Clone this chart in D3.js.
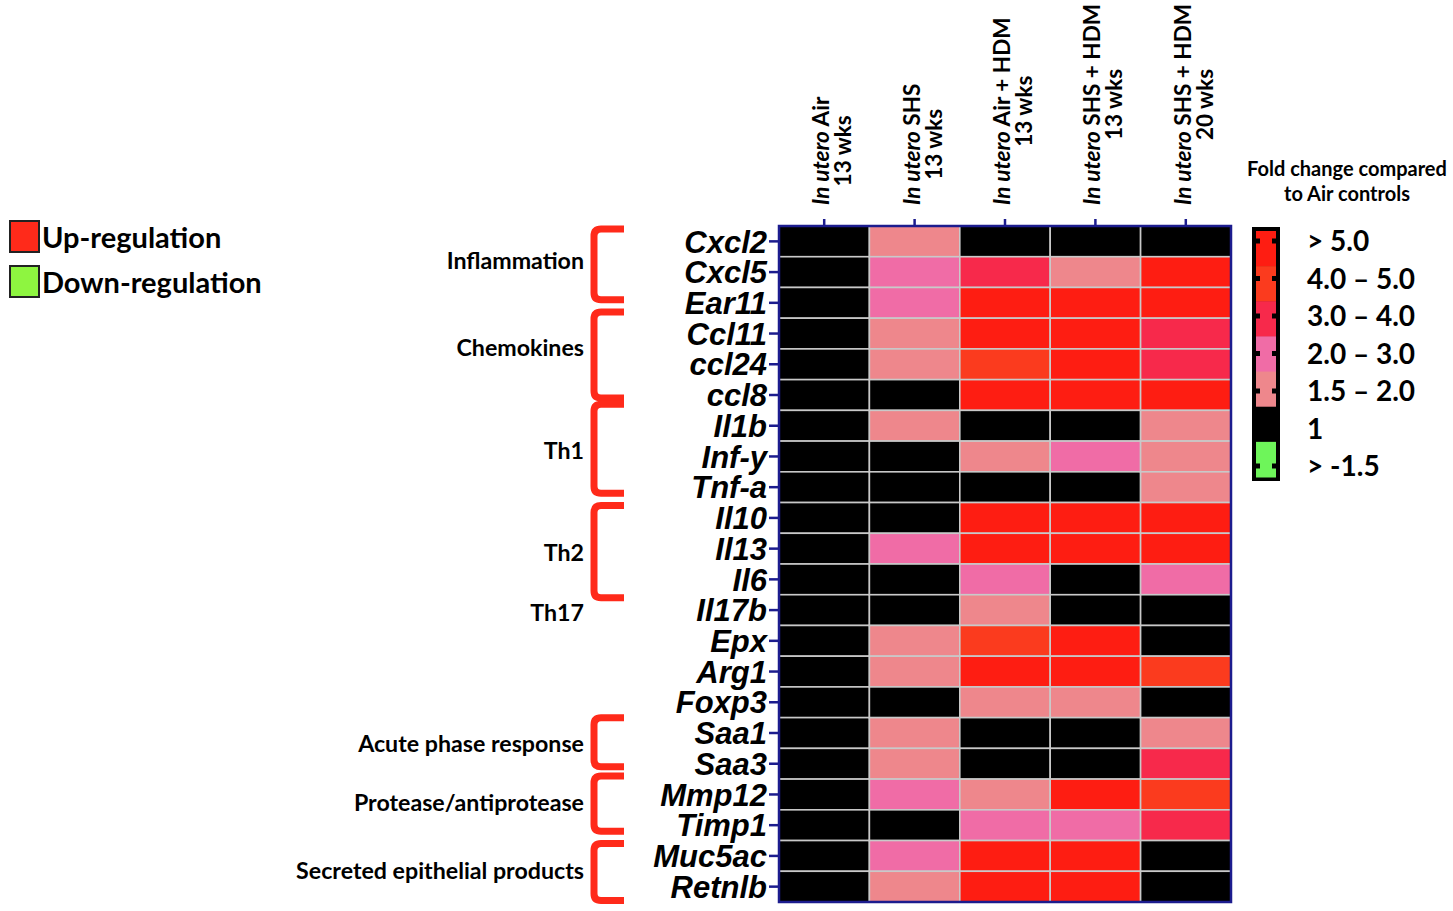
<!DOCTYPE html>
<html>
<head>
<meta charset="utf-8">
<script src="https://cdn.jsdelivr.net/npm/d3@7"></script>
<style>
  body { margin: 0; background: #fff; }
  svg { display: block; }
  .hdr, .grp, .leg { font-family: Lato, "Open Sans", sans-serif; font-weight: bold; }
  .gene text { font-family: "Liberation Sans", Arial, sans-serif; font-weight: bold; font-style: italic; font-size: 31px; fill: #000; }
</style>
</head>
<body>
<div id="chart"></div>
<script>
// genes (rows) top to bottom
const genes = ["Cxcl2","Cxcl5","Ear11","Ccl11","ccl24","ccl8","Il1b","Inf-y","Tnf-a","Il10","Il13","Il6",
               "Il17b","Epx","Arg1","Foxp3","Saa1","Saa3","Mmp12","Timp1","Muc5ac","Retnlb"];

// column headers: text after "In utero", and exposure length
const colGroups = [" Air", " SHS", " Air + HDM", " SHS + HDM", " SHS + HDM"];
const colWeeks  = ["13 wks", "13 wks", "13 wks", "13 wks", "20 wks"];

// fold change class per gene: 0 = 1, 1 = 1.5-2.0, 2 = 2.0-3.0, 3 = 3.0-4.0, 4 = 4.0-5.0, 5 = >5.0
const airWk13      = [0,0,0,0,0,0,0,0,0,0,0,0,0,0,0,0,0,0,0,0,0,0];
const shsWk13      = [1,2,2,1,1,0,1,0,0,0,2,0,0,1,1,0,1,1,2,0,2,1];
const airHdmWk13   = [0,3,5,5,4,5,0,1,0,5,5,2,1,4,5,1,0,0,1,2,5,5];
const shsHdmWk13   = [0,1,5,5,5,5,0,2,0,5,5,0,0,5,5,1,0,0,5,2,5,5];
const shsHdmWk20   = [0,5,5,3,3,5,1,1,1,5,5,2,0,0,4,0,1,3,4,3,0,0];
const series = [airWk13, shsWk13, airHdmWk13, shsHdmWk13, shsHdmWk20];

// legend classes, top to bottom
const legendLabels = ["> 5.0", "4.0 \u2013 5.0", "3.0 \u2013 4.0", "2.0 \u2013 3.0", "1.5 \u2013 2.0", "1", "> -1.5"];
const legendKeys   = [5, 4, 3, 2, 1, 0, -1];

// functional groups: label, bracket span in rows (null = no bracket), label row
const groupLabels = ["Inflammation","Chemokines","Th1","Th2","Th17","Acute phase response","Protease/antiprotease","Secreted epithelial products"];
const groupSpans  = [[0.1,2.4],[2.8,5.6],[5.8,8.7],[9.1,12.1],null,[16.0,17.6],[17.9,19.7],[20.1,21.95]];
const groupRows   = [1.14, 3.97, 7.33, 10.65, 12.6, 16.87, 18.76, 20.98];

const W = 1453, H = 911;
const navy = "#1c1c8e";
const colors = { "-1": "#6ef55a", 0: "#000000", 1: "#ee878c", 2: "#f06ca6", 3: "#f7294b", 4: "#fb3b1e", 5: "#fe1d12" };
const bracketRed = "#ff2a1a";

const svg = d3.select("#chart").append("svg")
  .attr("width", W).attr("height", H);

const x = d3.scaleBand().domain(d3.range(series.length)).range([779, 1231]);
const y = d3.scaleBand().domain(genes).range([226, 902]);
const rowPos = d3.scaleLinear().domain([0, genes.length]).range([226, 902]);

// cells
const cells = [];
series.forEach(function(s, c){
  s.forEach(function(v, r){ cells.push({ col: c, gene: genes[r], v: v }); });
});

svg.append("g").selectAll("rect")
  .data(cells)
  .enter().append("rect")
  .attr("x", d => x(d.col))
  .attr("y", d => y(d.gene))
  .attr("width", x.bandwidth())
  .attr("height", y.bandwidth())
  .attr("fill", d => colors[d.v])
  .attr("stroke", "#c9c9c9")
  .attr("stroke-width", 1.6);

svg.append("rect")
  .attr("x", 779).attr("y", 226)
  .attr("width", 1231 - 779).attr("height", 902 - 226)
  .attr("fill", "none").attr("stroke", navy).attr("stroke-width", 2.5);

// gene axis
const yAxis = svg.append("g")
  .attr("class", "gene")
  .attr("transform", "translate(779,0)")
  .call(d3.axisLeft(y).tickSize(10).tickPadding(2));
yAxis.select(".domain").remove();
yAxis.selectAll("line").attr("stroke", navy).attr("stroke-width", 2.5);
yAxis.selectAll("text").attr("dy", "0.36em");

// top ticks
const xAxis = svg.append("g")
  .attr("transform", "translate(0,226)")
  .call(d3.axisTop(x).tickSize(7).tickFormat(""));
xAxis.select(".domain").remove();
xAxis.selectAll("line").attr("stroke", navy).attr("stroke-width", 2.5);

// column headers (rotated)
const hdr = svg.append("g").selectAll("g")
  .data(colGroups)
  .enter().append("g")
  .attr("class", "hdr")
  .attr("transform", (d, i) => "translate(" + (x(i) + x.bandwidth() / 2) + ",205) rotate(-90)");

hdr.each(function(d, i){
  const g = d3.select(this);
  const t1 = g.append("text").attr("x", 0).attr("y", 5).attr("font-size", 22.5);
  t1.append("tspan").attr("font-style", "italic").text("In utero");
  t1.append("tspan").text(d);
  const len = t1.node().getComputedTextLength();
  g.append("text").attr("x", len / 2).attr("y", 27).attr("text-anchor", "middle")
    .attr("font-size", 22.5).text(colWeeks[i]);
});

// group brackets and labels
const groups = svg.append("g");
groupLabels.forEach(function(lbl, i){
  const span = groupSpans[i];
  if (span) {
    const t = rowPos(span[0]), b = rowPos(span[1]);
    const l = 594, r = 624, rad = 7;
    groups.append("path")
      .attr("d", "M" + r + "," + t + "L" + (l + rad) + "," + t + "Q" + l + "," + t + " " + l + "," + (t + rad) +
                 "L" + l + "," + (b - rad) + "Q" + l + "," + b + " " + (l + rad) + "," + b + "L" + r + "," + b)
      .attr("fill", "none").attr("stroke", bracketRed).attr("stroke-width", 7);
  }
  groups.append("text")
    .attr("class", "grp")
    .attr("x", 584).attr("y", rowPos(groupRows[i]))
    .attr("dy", "0.35em")
    .attr("text-anchor", "end")
    .attr("font-size", 23.2)
    .text(lbl);
});

// left legend
const keyItems = [{ label: "Up-regulation", fill: "#ff2a1a" }, { label: "Down-regulation", fill: "#8ef540" }];
const key = svg.append("g").selectAll("g")
  .data(keyItems)
  .enter().append("g")
  .attr("transform", (d, i) => "translate(10," + (221 + i * 45) + ")");
key.append("rect")
  .attr("width", 29).attr("height", 31)
  .attr("fill", d => d.fill).attr("stroke", "#222").attr("stroke-width", 2);
key.append("text")
  .attr("class", "leg")
  .attr("x", 32).attr("y", 17).attr("dy", "0.35em")
  .attr("font-weight", "normal")
  .attr("font-size", 29)
  .text(d => d.label);

// fold change legend
const leg = svg.append("g");
leg.append("text").attr("class", "leg").attr("text-anchor", "middle")
  .attr("x", 1347).attr("y", 176).attr("font-size", 20).text("Fold change compared");
leg.append("text").attr("class", "leg").attr("text-anchor", "middle")
  .attr("x", 1347).attr("y", 201).attr("font-size", 20).text("to Air controls");

const lb = d3.scaleBand().domain(legendKeys).range([231, 477]);
const lp = d3.scalePoint().domain(legendKeys).range([241, 466]);

leg.append("rect").attr("x", 1252).attr("y", 227).attr("width", 28).attr("height", 254).attr("fill", "#000");
leg.selectAll(".blk")
  .data(legendKeys)
  .enter().append("rect")
  .attr("class", "blk")
  .attr("x", 1256).attr("y", d => lb(d))
  .attr("width", 20).attr("height", lb.bandwidth() + 0.5)
  .attr("fill", d => colors[d]);
[1256, 1272].forEach(function(nx){
  leg.selectAll(null)
    .data(legendKeys)
    .enter().append("rect")
    .attr("x", nx).attr("y", d => lp(d) - 2.5)
    .attr("width", 4).attr("height", 5)
    .attr("fill", "#000");
});
leg.selectAll(".lbl")
  .data(legendKeys)
  .enter().append("text")
  .attr("class", "leg lbl")
  .attr("x", 1307).attr("y", d => lp(d)).attr("dy", "0.36em")
  .attr("font-size", 28)
  .text((d, i) => legendLabels[i]);
</script>
</body>
</html>
